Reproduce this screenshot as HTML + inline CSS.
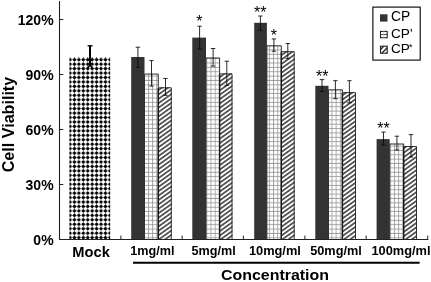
<!DOCTYPE html><html><head><meta charset="utf-8"><title>Cell Viability</title><style>html,body{margin:0;padding:0;background:#fff;}svg{display:block;will-change:transform;opacity:0.999}text{font-family:"Liberation Sans", Arial, sans-serif;fill:#000}</style></head><body>
<svg width="431" height="282" viewBox="0 0 431 282">
<defs>
<pattern id="dots" patternUnits="userSpaceOnUse" x="72.235" y="57.476" width="4.43" height="4.4475"><rect width="4.43" height="4.4475" fill="#fff"/><path d="M0 2.22375H4.43M2.215 0V4.4475" stroke="#555" stroke-width="0.5"/><path d="M2.215 0.42374999999999985L4.015 2.22375L2.215 4.02375L0.4149999999999998 2.22375Z" fill="#000"/><circle cx="2.215" cy="2.22375" r="1.45" fill="#000"/></pattern>
<pattern id="grid" patternUnits="userSpaceOnUse" x="22.900" y="15.400" width="4.17" height="4.37"><rect width="4.17" height="4.37" fill="#fff"/><path d="M0.5 0V4.37M0 3.87H4.17" stroke="#8c8c8c" stroke-width="0.75"/></pattern>
<pattern id="hatch" patternUnits="userSpaceOnUse" x="0" y="-1.181" width="20" height="3.582" patternTransform="rotate(-35.5)"><rect width="20" height="3.582" fill="#fff"/><path d="M0 1.791H20" stroke="#111" stroke-width="1.3"/></pattern>
</defs>
<rect width="431" height="282" fill="#fff"/>
<rect x="69.4" y="57" width="40.8" height="182.45" fill="url(#dots)"/>
<rect x="144.5" y="73.6" width="13.80" height="165.85" fill="url(#grid)"/>
<path d="M144.5 239.45V74.1H158.3V239.45" stroke="#333" stroke-width="1" fill="none"/>
<rect x="158.3" y="87.3" width="13.50" height="152.15" fill="url(#hatch)"/>
<path d="M158.3 239.45V87.8" stroke="#1a1a1a" stroke-width="1.5" fill="none"/>
<path d="M158.3 87.8H171.3V239.45" stroke="#2a2a2a" stroke-width="0.95" fill="none"/>
<rect x="131.2" y="57.0" width="13.30" height="182.45" fill="#333"/>
<path d="M137.9 47.2V67.3M135.70 47.2H140.10M135.70 67.3H140.10" stroke="#080808" stroke-width="0.85" fill="none"/>
<path d="M151.5 60.6V86.1M149.30 60.6H153.70M149.30 86.1H153.70" stroke="#080808" stroke-width="0.85" fill="none"/>
<path d="M165.5 78.5V95.3M163.30 78.5H167.70M163.30 95.3H167.70" stroke="#080808" stroke-width="0.85" fill="none"/>
<rect x="206.0" y="57.5" width="13.60" height="181.95" fill="url(#grid)"/>
<path d="M206.0 239.45V58.0H219.6V239.45" stroke="#333" stroke-width="1" fill="none"/>
<rect x="219.6" y="73.4" width="12.90" height="166.05" fill="url(#hatch)"/>
<path d="M219.6 239.45V73.9" stroke="#1a1a1a" stroke-width="1.5" fill="none"/>
<path d="M219.6 73.9H232.0V239.45" stroke="#2a2a2a" stroke-width="0.95" fill="none"/>
<rect x="192.3" y="37.6" width="13.70" height="201.85" fill="#333"/>
<path d="M199.6 26.2V49.2M197.40 26.2H201.80M197.40 49.2H201.80" stroke="#080808" stroke-width="0.85" fill="none"/>
<path d="M213.1 48.5V66.1M210.90 48.5H215.30M210.90 66.1H215.30" stroke="#080808" stroke-width="0.85" fill="none"/>
<path d="M226.8 61.2V85.3M224.60 61.2H229.00M224.60 85.3H229.00" stroke="#080808" stroke-width="0.85" fill="none"/>
<rect x="266.9" y="45.4" width="14.40" height="194.05" fill="url(#grid)"/>
<path d="M266.9 239.45V45.9H281.3V239.45" stroke="#333" stroke-width="1" fill="none"/>
<rect x="281.3" y="51.2" width="13.40" height="188.25" fill="url(#hatch)"/>
<path d="M281.3 239.45V51.7" stroke="#1a1a1a" stroke-width="1.5" fill="none"/>
<path d="M281.3 51.7H294.2V239.45" stroke="#2a2a2a" stroke-width="0.95" fill="none"/>
<rect x="254.2" y="22.8" width="12.70" height="216.65" fill="#333"/>
<path d="M260.4 16.0V30.2M258.20 16.0H262.60M258.20 30.2H262.60" stroke="#080808" stroke-width="0.85" fill="none"/>
<path d="M273.9 38.9V51.2M271.70 38.9H276.10M271.70 51.2H276.10" stroke="#080808" stroke-width="0.85" fill="none"/>
<path d="M287.8 43.5V58.5M285.60 43.5H290.00M285.60 58.5H290.00" stroke="#080808" stroke-width="0.85" fill="none"/>
<rect x="328.5" y="89.4" width="13.90" height="150.05" fill="url(#grid)"/>
<path d="M328.5 239.45V89.9H342.4V239.45" stroke="#333" stroke-width="1" fill="none"/>
<rect x="342.4" y="92.1" width="13.60" height="147.35" fill="url(#hatch)"/>
<path d="M342.4 239.45V92.6" stroke="#1a1a1a" stroke-width="1.5" fill="none"/>
<path d="M342.4 92.6H355.5V239.45" stroke="#2a2a2a" stroke-width="0.95" fill="none"/>
<rect x="315.3" y="85.8" width="13.20" height="153.65" fill="#333"/>
<path d="M322.0 79.6V91.5M319.80 79.6H324.20M319.80 91.5H324.20" stroke="#080808" stroke-width="0.85" fill="none"/>
<path d="M335.4 80.7V98.7M333.20 80.7H337.60M333.20 98.7H337.60" stroke="#080808" stroke-width="0.85" fill="none"/>
<path d="M349.4 80.7V102.8M347.20 80.7H351.60M347.20 102.8H351.60" stroke="#080808" stroke-width="0.85" fill="none"/>
<rect x="389.7" y="143.5" width="14.00" height="95.95" fill="url(#grid)"/>
<path d="M389.7 239.45V144.0H403.7V239.45" stroke="#333" stroke-width="1" fill="none"/>
<rect x="403.7" y="146.0" width="13.30" height="93.45" fill="url(#hatch)"/>
<path d="M403.7 239.45V146.5" stroke="#1a1a1a" stroke-width="1.5" fill="none"/>
<path d="M403.7 146.5H416.5V239.45" stroke="#2a2a2a" stroke-width="0.95" fill="none"/>
<rect x="376.6" y="139.1" width="13.10" height="100.35" fill="#333"/>
<path d="M383.5 132.1V145.2M381.30 132.1H385.70M381.30 145.2H385.70" stroke="#080808" stroke-width="0.85" fill="none"/>
<path d="M396.9 136.2V150.0M394.70 136.2H399.10M394.70 150.0H399.10" stroke="#080808" stroke-width="0.85" fill="none"/>
<path d="M411.0 134.6V157.0M408.80 134.6H413.20M408.80 157.0H413.20" stroke="#080808" stroke-width="0.85" fill="none"/>
<path d="M90 45.8V66" stroke="#000" stroke-width="2" fill="none"/>
<path d="M87.6 45.8H92.6" stroke="#000" stroke-width="1.3" fill="none"/>
<path d="M87.8 68L90 65L92.2 68" stroke="#000" stroke-width="1.4" fill="none"/>
<path d="M59.5 1V239.95" stroke="#222" stroke-width="1.1" fill="none"/>
<path d="M59.0 239.45H428.3" stroke="#222" stroke-width="1.1" fill="none"/>
<path d="M59.5 19.5H63.3" stroke="#222" stroke-width="1" fill="none"/>
<path d="M59.5 74.5H63.3" stroke="#222" stroke-width="1" fill="none"/>
<path d="M59.5 129.5H63.3" stroke="#222" stroke-width="1" fill="none"/>
<path d="M59.5 184.5H63.3" stroke="#222" stroke-width="1" fill="none"/>
<path d="M120.9 239.45V235.6" stroke="#222" stroke-width="1" fill="none"/>
<path d="M182.2 239.45V235.6" stroke="#222" stroke-width="1" fill="none"/>
<path d="M243.4 239.45V235.6" stroke="#222" stroke-width="1" fill="none"/>
<path d="M304.9 239.45V235.6" stroke="#222" stroke-width="1" fill="none"/>
<path d="M366.2 239.45V235.6" stroke="#222" stroke-width="1" fill="none"/>
<path d="M427.7 239.45V235.6" stroke="#222" stroke-width="1" fill="none"/>
<text x="53.6" y="25.3" font-size="14" font-weight="bold" text-anchor="end">120%</text>
<text x="53.6" y="80.3" font-size="14" font-weight="bold" text-anchor="end">90%</text>
<text x="53.6" y="135.3" font-size="14" font-weight="bold" text-anchor="end">60%</text>
<text x="53.6" y="190.3" font-size="14" font-weight="bold" text-anchor="end">30%</text>
<text x="53.6" y="245.3" font-size="14" font-weight="bold" text-anchor="end">0%</text>
<text transform="translate(14.3 172.3) rotate(-90)" font-size="16" font-weight="bold" textLength="95.5" lengthAdjust="spacingAndGlyphs">Cell Viability</text>
<text x="72.3" y="256.8" font-size="14" font-weight="bold" text-anchor="start" textLength="37.5" lengthAdjust="spacingAndGlyphs">Mock</text>
<text x="130.2" y="255.1" font-size="12" font-weight="bold" text-anchor="start" textLength="44.2" lengthAdjust="spacingAndGlyphs">1mg/ml</text>
<text x="191.5" y="255.1" font-size="12" font-weight="bold" text-anchor="start" textLength="44.2" lengthAdjust="spacingAndGlyphs">5mg/ml</text>
<text x="248.9" y="255.1" font-size="12" font-weight="bold" text-anchor="start" textLength="52.0" lengthAdjust="spacingAndGlyphs">10mg/ml</text>
<text x="310.2" y="255.1" font-size="12" font-weight="bold" text-anchor="start" textLength="51.6" lengthAdjust="spacingAndGlyphs">50mg/ml</text>
<text x="371.4" y="255.1" font-size="12" font-weight="bold" text-anchor="start" textLength="59.1" lengthAdjust="spacingAndGlyphs">100mg/ml</text>
<path d="M133 262.8H419.6" stroke="#000" stroke-width="2" fill="none"/>
<text x="221.0" y="280.3" font-size="14.8" font-weight="bold" text-anchor="start" textLength="108" lengthAdjust="spacingAndGlyphs">Concentration</text>
<text x="199.3" y="26.6" font-size="16" font-weight="normal" text-anchor="middle">*</text>
<text x="260.3" y="18.0" font-size="16" font-weight="normal" text-anchor="middle">**</text>
<text x="273.9" y="41.0" font-size="16" font-weight="normal" text-anchor="middle">*</text>
<text x="322.2" y="81.7" font-size="16" font-weight="normal" text-anchor="middle">**</text>
<text x="383.4" y="133.8" font-size="16" font-weight="normal" text-anchor="middle">**</text>
<rect x="372.9" y="7.1" width="47.3" height="53.0" fill="#fff" stroke="#000" stroke-width="1.1"/>
<rect x="380" y="14.3" width="7.5" height="7.3" fill="#333"/>
<rect x="380.5" y="31.4" width="6.7" height="6.3" fill="#fff" stroke="#222" stroke-width="1.1"/>
<path d="M380.5 34.5H387.2" stroke="#444" stroke-width="1"/>
<path d="M383.8 31.3V37.7" stroke="#ccc" stroke-width="0.8"/>
<clipPath id="lc"><rect x="380.5" y="46.2" width="6.7" height="7.0"/></clipPath>
<g clip-path="url(#lc)"><path d="M377 53L385 45M380 55L389 46M383.5 56.5L391 49" stroke="#222" stroke-width="1.3"/></g>
<rect x="380.5" y="46.2" width="6.7" height="7.0" fill="none" stroke="#222" stroke-width="1.1"/>
<text x="391.0" y="21.4" font-size="13.8" font-weight="normal" text-anchor="start">CP</text>
<text x="391.0" y="37.5" font-size="13.6" font-weight="normal" text-anchor="start">CP'</text>
<text x="391.0" y="53.1" font-size="13.6" font-weight="normal" text-anchor="start">CP</text>
<text x="408.9" y="49.8" font-size="9" font-weight="normal">*</text>
</svg></body></html>
